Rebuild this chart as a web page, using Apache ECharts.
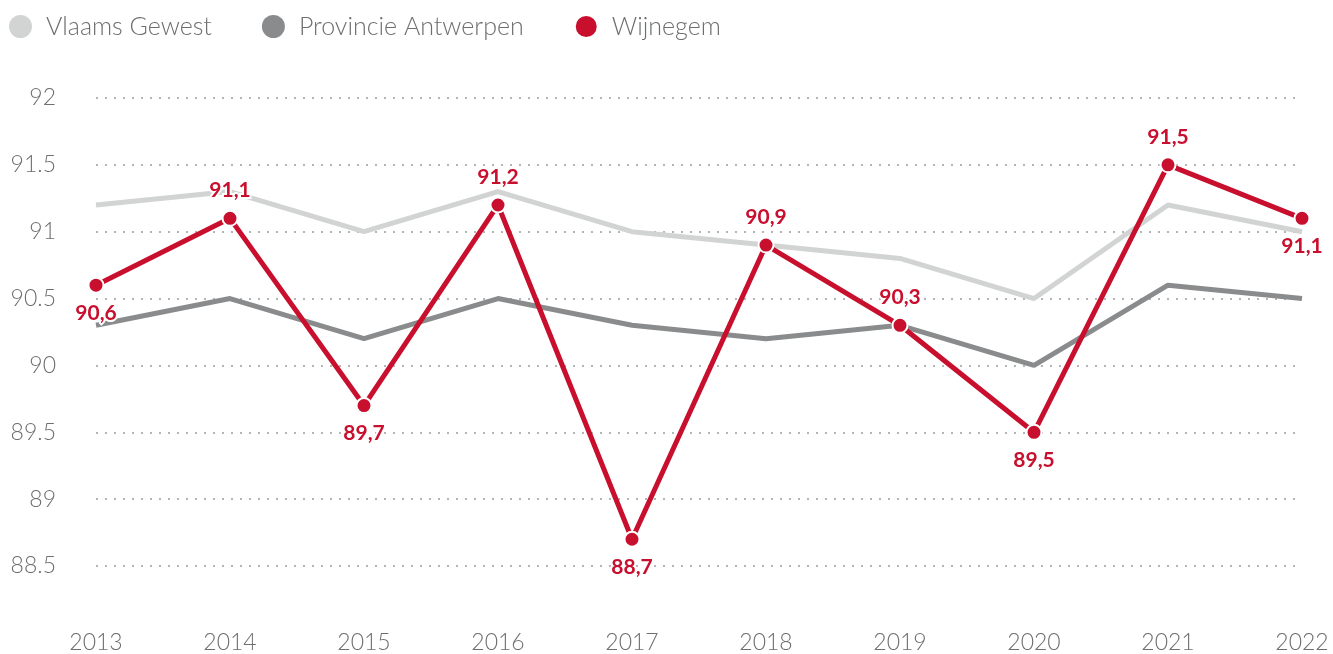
<!DOCTYPE html>
<html>
<head>
<meta charset="utf-8">
<script src="https://cdn.jsdelivr.net/npm/echarts@6/dist/echarts.min.js"></script>
<style>
  html, body { margin: 0; padding: 0; background: #fff; }
  #chart { width: 1333px; height: 654px; }
</style>
</head>
<body>
<div id="chart"></div>
<script>
const years = ['2013', '2014', '2015', '2016', '2017', '2018', '2019', '2020', '2021', '2022'];
const vlaamsGewest = [91.2, 91.3, 91.0, 91.3, 91.0, 90.9, 90.8, 90.5, 91.2, 91.0];
const provincieAntwerpen = [90.3, 90.5, 90.2, 90.5, 90.3, 90.2, 90.3, 90.0, 90.6, 90.5];
const wijnegem = [90.6, 91.1, 89.7, 91.2, 88.7, 90.9, 90.3, 89.5, 91.5, 91.1];

const RED = '#c8102e';
const LIGHT = '#d2d3d3';
const DARK = '#898b8d';
const FONT = 'Lato';

// Put a value label under the point when it sits lower than its neighbours' average
function labelSide(values, i) {
  const n = [];
  if (i > 0) n.push(values[i - 1]);
  if (i < values.length - 1) n.push(values[i + 1]);
  const avg = n.reduce((a, b) => a + b, 0) / n.length;
  return values[i] < avg ? 'bottom' : 'top';
}

const wijnegemData = wijnegem.map((v, i) => ({
  value: v,
  label: { position: labelSide(wijnegem, i) }
}));

const chart = echarts.init(document.getElementById('chart'));
chart.setOption({
  animation: false,
  backgroundColor: '#fff',
  legend: {
    left: 4,
    top: 9,
    itemWidth: 23,
    itemHeight: 23,
    itemGap: 50,
    icon: 'circle',
    textStyle: { fontFamily: FONT, fontWeight: 300, fontSize: 25, color: '#6d6e70', padding: [0, 0, 0, 9] },
    data: ['Vlaams Gewest', 'Provincie Antwerpen', 'Wijnegem']
  },
  grid: { left: 96, right: 31, top: 98, bottom: 86 },
  xAxis: {
    type: 'category',
    data: years,
    boundaryGap: false,
    axisLine: { show: false },
    axisTick: { show: false },
    axisLabel: { margin: 65, fontFamily: FONT, fontWeight: 300, fontSize: 23, color: '#6d6e70' }
  },
  yAxis: {
    type: 'value',
    min: 88.5,
    max: 92,
    interval: 0.5,
    axisLine: { show: false },
    axisTick: { show: false },
    axisLabel: { margin: 40, fontFamily: FONT, fontWeight: 300, fontSize: 23, color: '#6d6e70' },
    splitLine: { lineStyle: { color: '#b4b5b6', width: 2.2, type: [2, 7], cap: 'butt' } }
  },
  series: [
    {
      name: 'Vlaams Gewest',
      type: 'line',
      data: vlaamsGewest,
      color: LIGHT,
      symbol: 'none',
      lineStyle: { width: 5, color: LIGHT },
      z: 2
    },
    {
      name: 'Provincie Antwerpen',
      type: 'line',
      data: provincieAntwerpen,
      color: DARK,
      symbol: 'none',
      lineStyle: { width: 5, color: DARK },
      z: 3
    },
    {
      name: 'Wijnegem',
      type: 'line',
      data: wijnegemData,
      color: RED,
      symbol: 'circle',
      symbolSize: 15,
      itemStyle: { color: RED, borderColor: '#fff', borderWidth: 2 },
      lineStyle: { width: 5, color: RED },
      z: 4,
      label: {
        show: true,
        distance: 9,
        fontFamily: FONT,
        fontWeight: 'bold',
        fontSize: 21,
        color: RED,
        textBorderColor: '#fff',
        textBorderWidth: 4,
        formatter: p => String(p.value).replace('.', ',')
      }
    }
  ]
});
</script>
</body>
</html>
